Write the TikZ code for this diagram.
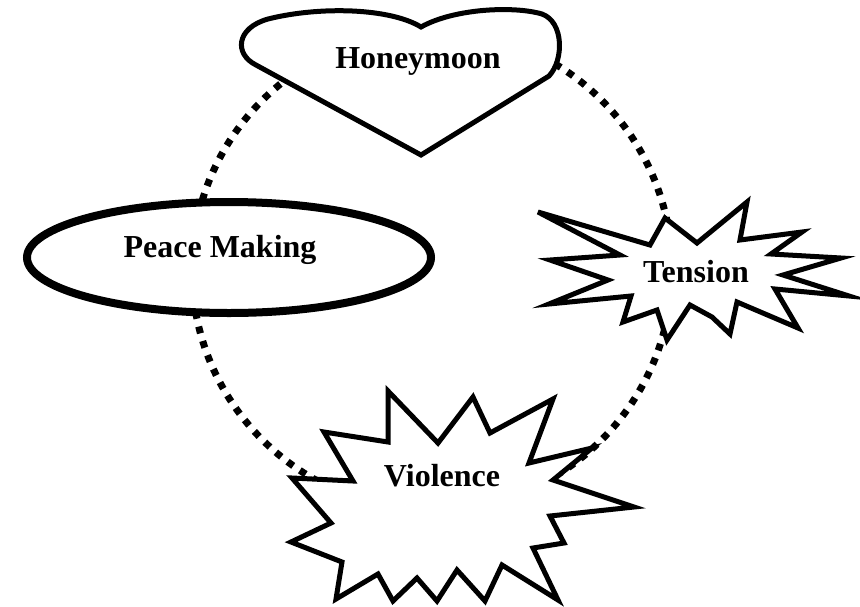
\documentclass[tikz,border=0pt]{standalone}
\usepackage{fontspec}
\setmainfont{Liberation Serif}
\begin{document}
\begin{tikzpicture}[x=1pt,y=-1pt,
  shapeline/.style={draw=black, fill=white, line width=5pt, line join=miter, miter limit=10},
  lbl/.style={font=\fontsize{32}{36}\selectfont\bfseries, anchor=base, inner sep=0pt},
  cycledots/.style={draw=black, line width=7pt, dash pattern=on 7pt off 8pt}]
\useasboundingbox (0,0) rectangle (860,606);
% dotted cycle
\coordinate (ctr) at (432,270);
\draw[cycledots] (ctr) circle[radius=240];
% Honeymoon heart
\draw[shapeline] (421,155) -- (256,65)
  .. controls (234,54) and (236,28) .. (268,19)
  .. controls (320,6) and (390,8) .. (421,27)
  .. controls (455,8) and (515,6) .. (542,14)
  .. controls (564,22) and (564,60) .. (549,76) -- cycle;
% Peace Making ellipse
\draw[shapeline, line width=8pt] (229,257.5) ellipse[x radius=202, y radius=55.5];
% Tension explosion
\draw[shapeline] (538,212) -- (650,245) -- (665,218) -- (697,243) -- (747,202) -- (740,240)
  -- (802,232) -- (771,254) -- (841,258) -- (783,275) -- (849,296) -- (775,289)
  -- (798,328) -- (737,302) -- (730,334) -- (712,317) -- (690,305) -- (667,340)
  -- (657,310) -- (623,322) -- (631,296) -- (549,304) -- (608,280) -- (550,260)
  -- (620,255) -- cycle;
% Violence explosion
\draw[shapeline] (388,391) -- (438,443) -- (473,397) -- (490,433) -- (553,399)
  -- (529,463) -- (592,448) -- (553,480) -- (634,507) -- (550,516) -- (564,543)
  -- (533,548) -- (558,600) -- (502,565) -- (485,601) -- (457,570) -- (437,601)
  -- (417,578) -- (393,601) -- (378,574) -- (336,599) -- (342,562) -- (291,542)
  -- (331,523) -- (292,478) -- (353,481) -- (324,432) -- (388,442) -- cycle;
% labels
\node[lbl] (honey) at (418,68) {Honeymoon};
\node[lbl] (peace) at (220,257) {Peace Making};
\node[lbl] (tension) at (696,282) {Tension};
\node[lbl] (violence) at (442,486) {Violence};
\end{tikzpicture}
\end{document}
